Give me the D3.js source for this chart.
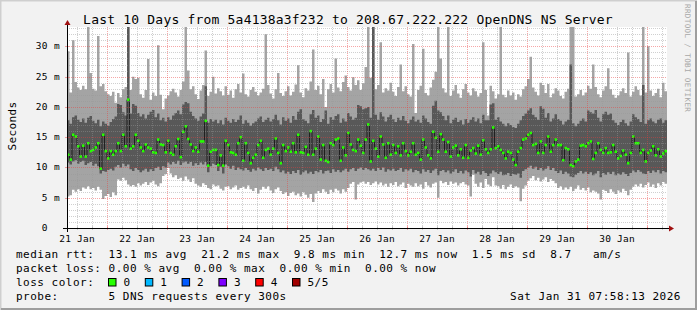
<!DOCTYPE html>
<html>
<head>
<meta charset="utf-8">
<script src="https://cdn.jsdelivr.net/npm/d3@7/dist/d3.min.js"></script>
<style>
  html, body { margin: 0; padding: 0; background: #f2f2f2; }
  svg text { font-family: "DejaVu Sans Mono", monospace; white-space: pre; }
</style>
</head>
<body>
<svg id="chart" width="697" height="310"></svg>
<script>
// hourly rrd columns, Jan 21 07:58 -> Jan 31 07:58 (240 steps), values in ms
// lowest ping of 5
const pingLo = [
  5.2,5.4,6.3,6.0,6.4,6.1,6.7,6.5,6.9,6.4,6.6,6.2,6.8,6.3,4.8,5.3,5.6,5.1,5.9,5.4,
  8.0,7.8,8.3,7.9,7.2,6.9,7.1,6.8,7.4,7.0,7.3,7.6,7.1,7.5,7.8,7.2,6.9,7.4,8.6,8.9,
  9.9,9.0,8.4,8.7,8.1,8.3,7.8,8.5,8.0,7.6,8.2,7.3,7.0,6.8,7.4,7.1,6.6,6.4,7.2,6.9,
  7.0,6.5,6.2,6.8,6.9,6.4,6.7,7.0,6.3,6.6,6.8,6.5,7.0,6.4,6.1,6.6,5.7,6.3,6.8,6.5,
  6.9,6.2,5.8,6.4,6.7,6.1,5.6,5.9,5.3,5.8,6.0,5.4,5.7,5.2,5.9,5.5,5.0,5.6,4.3,5.7,
  6.1,5.8,6.4,6.0,5.6,6.3,5.9,6.5,6.2,5.7,6.4,6.0,6.6,7.3,7.6,4.7,7.2,7.5,7.7,7.3,
  7.6,7.1,7.4,7.7,7.2,7.5,7.0,7.3,6.8,7.4,7.1,7.6,6.9,7.2,7.5,6.6,7.3,7.0,6.8,7.4,
  6.9,7.2,6.5,7.6,7.0,6.7,7.3,7.5,5.0,7.8,7.4,7.6,7.1,7.7,7.3,7.5,7.0,7.4,7.6,7.2,
  7.0,5.2,8.8,7.3,6.8,7.5,6.6,8.1,7.2,6.9,8.4,7.0,6.9,6.5,7.1,6.4,6.8,7.2,6.6,6.9,
  6.7,4.4,6.5,7.0,7.8,8.2,8.6,7.9,8.3,7.7,8.0,8.4,7.6,8.1,7.8,7.4,6.6,6.9,6.3,6.7,
  6.4,6.8,6.1,6.5,7.0,6.3,6.6,6.2,6.7,5.9,6.2,6.0,5.7,4.7,6.3,6.1,5.8,6.4,6.0,5.6,
  6.2,5.9,6.5,6.1,5.4,6.3,6.8,7.2,6.9,7.3,6.7,7.1,7.5,6.8,7.2,6.6,7.4,7.0,7.6,7.3
];
// second ping
const ping2 = [
  10.8,10.5,11.0,11.2,10.6,10.9,11.1,10.4,10.7,10.9,10.3,10.6,10.2,9.0,9.4,9.3,9.6,9.8,9.5,10.1,
  10.4,10.0,10.6,10.2,10.5,9.7,9.4,9.9,9.6,9.2,9.5,9.8,9.3,9.7,9.4,9.9,10.1,9.6,10.2,10.0,
  10.8,10.5,10.9,10.6,11.1,10.4,10.8,11.0,10.6,10.9,10.3,10.7,10.4,10.8,10.5,10.9,9.2,10.2,10.6,10.4,
  9.4,10.1,9.0,10.5,10.2,9.8,10.3,9.6,10.0,9.7,9.5,9.9,9.6,9.3,9.8,9.5,10.0,9.7,9.4,9.9,
  9.6,9.8,9.4,10.1,9.7,9.2,9.5,9.0,9.3,8.9,9.4,9.1,9.6,8.8,9.2,9.5,9.0,9.3,8.9,9.4,
  9.2,9.6,9.0,9.4,9.5,9.1,9.7,9.3,9.6,9.2,9.5,9.8,9.3,9.7,9.9,9.4,9.8,10.0,9.6,9.9,
  9.7,9.5,9.8,9.4,9.9,9.6,10.0,9.3,9.7,9.5,9.8,9.4,9.6,9.9,9.3,9.7,9.5,9.8,9.2,9.6,
  9.4,9.0,9.7,9.3,9.6,9.1,9.5,9.8,8.7,9.4,9.6,9.2,9.5,9.0,9.3,9.7,9.1,9.4,9.0,9.5,
  9.2,8.5,9.6,9.0,9.3,8.8,9.4,9.1,8.6,9.0,9.5,9.2,8.9,9.3,8.7,8.8,9.1,8.6,8.9,8.8,
  9.0,8.3,9.4,9.7,10.0,10.3,9.8,10.1,9.6,9.9,9.5,9.8,10.2,9.6,9.9,9.4,9.1,9.5,8.9,9.3,
  9.0,8.5,8.4,8.8,9.1,9.4,9.0,9.3,8.9,9.2,8.7,9.0,9.4,8.4,9.1,8.8,9.2,8.9,9.3,8.7,
  9.0,8.8,9.2,8.9,8.6,9.1,9.5,9.2,9.6,9.3,9.0,8.9,9.4,9.1,9.5,9.2,9.6,9.0,9.4,9.2
];
// median ping
const pingMed = [
  12.1,11.3,15.4,15.1,13.5,11.8,13.6,11.8,14.0,12.7,12.9,13.3,14.0,9.8,15.4,12.7,11.5,12.7,12.1,12.7,
  14.0,12.7,15.4,13.5,21.2,13.1,13.5,15.4,14.4,13.3,12.7,13.8,13.3,13.1,12.5,12.4,14.6,13.8,13.7,12.5,
  14.4,12.4,12.1,13.5,14.7,11.7,15.9,16.8,14.7,13.8,12.7,13.3,12.6,14.3,14.3,17.7,10.3,12.6,12.9,12.9,
  10.4,12.0,10.3,14.4,13.7,12.5,12.4,12.1,14.0,15.0,11.1,14.0,12.4,10.7,11.6,12.1,13.7,14.4,11.6,12.9,
  13.1,12.1,13.1,14.8,12.4,10.7,13.7,12.7,13.3,12.6,14.0,12.5,15.4,12.5,12.4,13.4,12.1,16.0,12.1,13.1,
  15.1,11.3,13.7,11.1,10.9,14.0,13.7,14.6,14.8,11.1,13.3,12.0,15.7,13.8,12.9,12.7,14.6,13.6,12.4,14.6,
  17.1,11.0,14.4,13.1,11.8,15.1,13.8,11.6,14.0,12.1,13.7,12.4,13.5,12.0,14.0,12.7,12.0,12.6,14.0,12.1,
  12.4,11.3,14.6,13.3,12.0,11.5,15.9,14.9,12.6,15.5,14.6,12.6,14.2,11.8,13.3,13.6,12.0,13.0,11.6,13.7,
  11.6,12.8,13.2,12.3,13.6,12.1,14.5,13.0,12.4,13.0,16.6,13.2,13.5,12.9,12.4,11.5,12.6,12.4,11.3,10.4,
  12.6,13.2,14.6,14.8,15.4,15.7,13.7,13.9,12.4,14.3,12.4,13.7,15.1,12.6,13.7,14.6,13.7,13.7,11.2,13.2,
  13.0,10.4,10.2,11.0,11.3,13.6,13.7,13.5,14.0,14.3,11.4,12.4,14.0,12.9,12.4,13.2,12.4,12.5,13.7,12.6,
  11.5,11.9,12.8,12.1,10.7,12.4,15.1,14.0,14.0,12.4,12.9,11.0,12.4,12.8,13.5,12.0,13.0,11.8,12.3,12.7
];
// fourth ping
const ping4 = [
  17.8,17.2,18.3,18.6,17.9,17.5,18.1,17.4,18.2,18.5,17.7,17.3,17.9,16.8,17.6,17.2,16.9,17.5,18.0,18.4,
  20.5,20.3,19.1,18.6,33.5,18.9,20.5,20.2,19.0,18.4,18.8,18.1,18.7,19.2,19.5,18.3,18.9,17.8,18.2,17.6,
  18.3,17.9,18.6,19.0,19.4,18.8,20.4,20.8,20.6,19.2,18.5,18.1,17.7,18.4,18.9,23.4,17.4,18.0,17.6,17.9,
  17.3,17.8,17.1,18.2,17.7,17.4,18.0,17.5,17.9,18.6,17.2,17.8,17.4,16.9,17.3,17.6,18.1,18.4,17.5,17.9,
  18.2,17.6,18.0,18.7,17.8,17.1,18.3,17.7,18.1,17.4,18.5,17.9,19.2,19.6,18.0,17.7,17.3,18.8,19.5,18.2,
  18.6,17.5,18.0,19.4,17.2,18.3,17.9,18.5,18.8,17.4,18.1,17.6,19.0,18.4,17.9,18.2,20.3,20.1,19.6,19.8,
  20.0,18.2,33.5,18.7,17.9,19.1,18.4,17.6,18.3,18.7,18.0,17.5,18.2,17.8,18.5,17.7,17.3,17.9,18.4,17.6,
  17.9,17.4,18.6,18.1,17.5,17.2,20.2,21.0,19.4,19.1,18.5,17.8,18.6,17.3,17.9,18.2,17.5,17.8,17.1,18.0,
  17.4,17.9,18.3,17.6,18.1,17.3,18.7,17.8,17.8,20.4,20.6,17.9,18.3,17.6,17.2,16.8,17.3,17.0,16.7,16.5,
  17.2,17.8,18.5,18.9,19.4,19.8,18.7,18.3,17.9,20.1,19.7,18.2,19.0,17.6,18.1,18.8,18.0,17.7,17.1,17.6,
  17.9,27.0,17.3,16.8,17.2,17.7,18.1,17.6,19.4,19.1,18.9,19.5,18.2,17.6,18.8,19.2,18.7,18.9,17.8,17.4,
  17.0,17.5,17.9,17.3,16.9,17.6,18.8,18.3,18.0,17.5,23.6,17.2,17.8,18.1,17.6,17.3,17.9,18.1,17.4,17.8
];
// highest ping of 5
const pingHi = [
  29.2,22.4,31.0,24.1,23.2,22.8,23.5,22.9,33.5,25.6,23.0,22.7,31.7,23.4,23.8,22.6,22.1,21.8,22.5,20.7,
  22.3,21.6,22.9,23.3,33.5,22.8,25.0,24.6,24.8,22.1,21.5,22.8,27.9,21.2,22.4,21.8,30.2,22.0,19.6,21.4,
  21.9,22.6,23.0,22.4,21.7,22.8,24.2,33.5,26.0,22.9,23.4,22.1,21.3,22.7,23.6,29.3,21.8,22.5,25.0,22.2,
  23.1,22.6,21.9,23.4,22.0,22.7,21.5,22.9,23.8,22.4,25.5,22.1,21.7,22.8,23.3,22.5,21.9,22.4,23.0,32.0,
  23.6,22.2,21.4,22.9,25.6,22.3,21.8,22.6,23.4,21.9,22.5,23.7,26.9,22.4,21.6,23.1,22.7,24.2,29.5,22.8,
  23.5,22.1,24.6,20.0,22.9,23.8,22.4,28.0,23.2,22.6,24.1,25.2,23.3,22.7,24.9,23.6,24.4,22.8,23.9,26.6,
  33.5,24.8,33.5,22.9,23.6,30.7,22.4,23.1,22.7,24.0,22.5,21.8,23.3,27.0,22.6,23.4,22.1,21.7,30.4,19.0,
  22.8,23.5,29.6,22.3,21.9,23.2,24.5,25.8,33.5,28.0,23.1,22.4,33.5,21.8,22.7,23.6,22.2,21.5,22.9,23.8,
  22.4,21.9,23.1,22.6,21.7,22.3,30.7,22.8,18.6,23.5,22.6,21.4,22.1,33.5,22.0,21.6,22.7,21.9,22.4,21.2,
  22.1,21.7,22.9,23.4,24.6,28.3,23.2,22.5,21.9,24.0,23.6,22.3,23.8,21.6,22.2,23.1,22.7,21.8,21.4,22.5,
  23.0,33.5,33.5,21.7,22.1,22.8,21.9,22.4,23.5,23.0,27.0,23.3,22.1,21.6,22.7,23.4,26.4,22.9,22.0,21.5,
  21.9,22.6,23.1,22.3,29.0,21.7,22.5,23.4,22.8,21.9,33.5,22.4,30.0,22.7,21.8,22.3,23.0,21.6,24.0,22.6
];

const yTicks = [0, 5, 10, 15, 20, 25, 30];
const yTickLabels = ["0  ", "5 m", "10 m", "15 m", "20 m", "25 m", "30 m"];
const lossLabels = ["0", "1", "2", "3", "4", "5/5"];
const lossColors = ["#26ff00", "#00b8ff", "#0059ff", "#7e00ff", "#ff0000", "#a10000"];
const legendLines = [
  "median rtt:  13.1 ms avg  21.2 ms max  9.8 ms min  12.7 ms now  1.5 ms sd  8.7   am/s",
  "packet loss: 0.00 % avg  0.00 % max  0.00 % min  0.00 % now",
  "loss color:",
  "probe:       5 DNS requests every 300s"
];
const title = "Last 10 Days from 5a4138a3f232 to 208.67.222.222 OpenDNS NS Server";
const stamp = "Sat Jan 31 07:58:13 2026";

const W = 697, H = 310;
const pL = 67, pR = 667, pT = 27, pB = 228;
const tStart = new Date(2026, 0, 21, 7, 58, 13);
const tEnd = new Date(2026, 0, 31, 7, 58, 13);

const svg = d3.select('#chart');

// frame
svg.append('rect').attr('width', W).attr('height', H).attr('fill', '#f2f2f2');
svg.append('path').attr('d', `M0,${H} V0 H${W}`).attr('fill', 'none').attr('stroke', '#cfcfcf').attr('stroke-width', 3);
svg.append('path').attr('d', `M1,${H - 1} H${W - 1} V1`).attr('fill', 'none').attr('stroke', '#9e9e9e').attr('stroke-width', 2);

const x = d3.scaleLinear().domain([0, pingMed.length]).range([pL, pR]);
const t = d3.scaleTime().domain([tStart, tEnd]).range([pL, pR]);
const y = d3.scaleLinear().domain([0, 33.2]).range([pB, pT]);

svg.append('rect').attr('x', pL).attr('y', pT).attr('width', pR - pL).attr('height', pB - pT).attr('fill', '#fff');

svg.append('clipPath').attr('id', 'plotclip')
  .append('rect').attr('x', pL).attr('y', pT).attr('width', pR - pL).attr('height', pB - pT);

const plot = svg.append('g').attr('clip-path', 'url(#plotclip)');

const idx = d3.range(pingMed.length + 1);
const at = (arr, i) => arr[Math.min(i, arr.length - 1)];

// smoke: outer pings light, inner pings dark
plot.append('path').datum(idx)
  .attr('fill', '#a4a4a4')
  .attr('d', d3.area().curve(d3.curveStepAfter)
    .x(i => x(i)).y0(i => y(at(pingLo, i))).y1(i => y(at(pingHi, i))));
plot.append('path').datum(idx)
  .attr('fill', '#585858')
  .attr('d', d3.area().curve(d3.curveStepAfter)
    .x(i => x(i)).y0(i => y(at(ping2, i))).y1(i => y(at(ping4, i))));

// grid on top
const grid = svg.append('g').attr('shape-rendering', 'crispEdges');
const minorCol = 'rgba(150,150,150,0.45)';
const majorCol = 'rgba(235,60,60,0.45)';
d3.range(1, 34).filter(v => v % 5 !== 0).forEach(v => {
  grid.append('line').attr('x1', pL).attr('x2', pR).attr('y1', Math.round(y(v)) + 0.5).attr('y2', Math.round(y(v)) + 0.5)
    .attr('stroke', minorCol).attr('stroke-dasharray', '1,1');
});
t.ticks(d3.timeHour.every(6)).filter(d => d.getHours() !== 0).forEach(d => {
  const xx = Math.round(t(d)) + 0.5;
  grid.append('line').attr('x1', xx).attr('x2', xx).attr('y1', pT).attr('y2', pB)
    .attr('stroke', minorCol).attr('stroke-dasharray', '1,1');
  grid.append('line').attr('x1', xx).attr('x2', xx).attr('y1', pB - 2).attr('y2', pB + 2).attr('stroke', minorCol);
});
yTicks.filter(v => v > 0).forEach(v => {
  grid.append('line').attr('x1', pL).attr('x2', pR).attr('y1', Math.round(y(v)) + 0.5).attr('y2', Math.round(y(v)) + 0.5)
    .attr('stroke', majorCol).attr('stroke-dasharray', '1,1');
  grid.append('line').attr('x1', pL - 2).attr('x2', pL + 2).attr('y1', Math.round(y(v)) + 0.5).attr('y2', Math.round(y(v)) + 0.5)
    .attr('stroke', majorCol);
});
const days = t.ticks(d3.timeDay.every(1));
days.forEach(d => {
  const xx = Math.round(t(d)) + 0.5;
  grid.append('line').attr('x1', xx).attr('x2', xx).attr('y1', pT).attr('y2', pB)
    .attr('stroke', majorCol).attr('stroke-dasharray', '1,1');
  grid.append('line').attr('x1', xx).attr('x2', xx).attr('y1', pB - 2).attr('y2', pB + 2).attr('stroke', majorCol);
});

// median: dark step line plus loss-coloured blocks
plot.append('path').datum(idx)
  .attr('fill', 'none').attr('stroke', '#202020').attr('stroke-width', 1)
  .attr('d', d3.line().curve(d3.curveStepAfter).x(i => x(i)).y(i => y(at(pingMed, i))));
plot.selectAll('rect.med').data(pingMed).join('rect')
  .attr('class', 'med')
  .attr('x', (d, i) => x(i)).attr('width', x(1) - x(0))
  .attr('y', d => y(d) - 1.3).attr('height', 2.6)
  .attr('fill', lossColors[0]);

// axes
svg.append('line').attr('x1', pL - 4).attr('x2', pR + 3).attr('y1', pB + 0.5).attr('y2', pB + 0.5)
  .attr('stroke', '#000');
svg.append('line').attr('x1', pL + 0.5).attr('x2', pL + 0.5).attr('y1', pB + 4).attr('y2', pT - 3)
  .attr('stroke', '#000');
svg.append('path').attr('d', `M${pL - 2.5},${pT - 2} L${pL + 3.5},${pT - 2} L${pL + 0.5},${pT - 7} Z`).attr('fill', '#a01010');
svg.append('path').attr('d', `M${pR + 2},${pB - 2.5} L${pR + 2},${pB + 3.5} L${pR + 7},${pB + 0.5} Z`).attr('fill', '#a01010');

// y labels
svg.selectAll('text.ylab').data(yTicks).join('text')
  .attr('class', 'ylab')
  .attr('x', 60).attr('y', d => y(d) + 3)
  .attr('text-anchor', 'end')
  .style('font-size', '9.5px').style('letter-spacing', '0.35px')
  .attr('fill', '#000')
  .text((d, i) => yTickLabels[i]);

// x labels at noon
svg.selectAll('text.xlab').data(days.map(d => d3.timeHour.offset(d, -12)).filter(d => d > tStart))
  .join('text')
  .attr('class', 'xlab')
  .attr('x', d => t(d)).attr('y', 241.5)
  .attr('text-anchor', 'middle')
  .style('font-size', '9.5px').style('letter-spacing', '0.2px')
  .text(d => d3.timeFormat('%d %b')(d));

// title
svg.append('text').attr('x', 348).attr('y', 24).attr('text-anchor', 'middle')
  .style('font-size', '13px').style('letter-spacing', '0.2px').text(title);

// y axis title
svg.append('text').attr('transform', 'translate(15.5,126) rotate(-90)').attr('text-anchor', 'middle')
  .style('font-size', '11px').style('letter-spacing', '0.4px').text('Seconds');

// watermark
svg.append('text').attr('transform', 'translate(685,4) rotate(90)')
  .style('font-size', '7.6px').style('letter-spacing', '0.35px').attr('fill', '#a8a8a8')
  .text('RRDTOOL / TOBI OETIKER');

// legend
svg.selectAll('text.leg').data(legendLines).join('text')
  .attr('class', 'leg')
  .attr('x', 16).attr('y', (d, i) => 258 + i * 14)
  .style('font-size', '11px').style('letter-spacing', '0.5px')
  .text(d => d);

const lossG = svg.append('g');
lossLabels.forEach((lab, i) => {
  const bx = 108.5 + i * 36.8;
  lossG.append('rect').attr('x', bx).attr('y', 278.5).attr('width', 7.5).attr('height', 7.5)
    .attr('fill', lossColors[i]).attr('stroke', '#000').attr('stroke-width', 1);
  lossG.append('text').attr('x', bx + 15).attr('y', 286)
    .style('font-size', '11px').style('letter-spacing', '0.5px').text(lab);
});

svg.append('text').attr('x', 681).attr('y', 300).attr('text-anchor', 'end')
  .style('font-size', '11px').style('letter-spacing', '0.5px').text(stamp);
</script>
</body>
</html>
